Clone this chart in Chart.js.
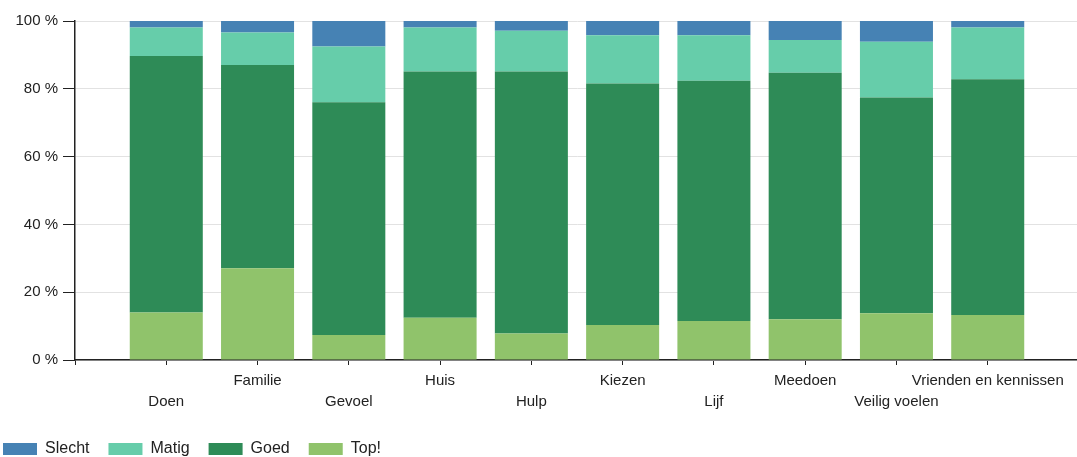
<!DOCTYPE html>
<html>
<head>
<meta charset="utf-8">
<script src="https://cdn.jsdelivr.net/npm/chart.js@4/dist/chart.umd.min.js"></script>
<style>
  html, body { margin: 0; padding: 0; background: #fff; overflow: hidden; }
  #wrap { width: 1077px; height: 457px; overflow: hidden; }
</style>
</head>
<body>
<div id="wrap"><canvas id="chart" width="1084" height="457"></canvas></div>
<script>
// categories (empty slots at both ends keep the first bar one step from the axis)
const categories = ['Doen', 'Familie', 'Gevoel', 'Huis', 'Hulp', 'Kiezen', 'Lijf', 'Meedoen', 'Veilig voelen', 'Vrienden en kennissen'];

// percentages per answer
const top_  = [14.0, 27.1,  7.4, 12.5,  7.8, 10.3, 11.5, 12.0, 13.8, 13.3];
const goed  = [75.7, 59.9, 68.6, 72.6, 77.3, 71.3, 70.9, 72.7, 63.6, 69.5];
const matig = [ 8.4,  9.6, 16.5, 13.0, 12.0, 14.2, 13.4,  9.7, 16.5, 15.3];
const slecht = [1.9,  3.4,  7.5,  1.9,  2.9,  4.2,  4.2,  5.6,  6.1,  1.9];

const yTicks = [0, 20, 40, 60, 80, 100];

function getColor(name) {
    if (name === 'Slecht') return '#4682B4';
    if (name === 'Matig') return '#66CDAA';
    if (name === 'Goed') return '#2E8B57';
    if (name === 'Top!') return '#90C36B';
}

// staggered labels: odd ones drop to a second line
const labels = [''].concat(categories.map((c, i) => i % 2 === 0 ? ['', c] : [c])).concat(['']);
const pad = arr => [null].concat(arr).concat([null]);

const series = [
    { label: 'Top!', data: top_ },
    { label: 'Goed', data: goed },
    { label: 'Matig', data: matig },
    { label: 'Slecht', data: slecht }
];

Chart.defaults.font.family = '"Liberation Sans", Arial, sans-serif';
Chart.defaults.color = '#333';

// legend sits flush with the left edge in the original
const legendShift = {
    id: 'legendShift',
    beforeDraw(chart) {
        chart.legend.left = -16;
    }
};

new Chart(document.getElementById('chart').getContext('2d'), {
    type: 'bar',
    data: {
        labels: labels,
        datasets: series.map(s => ({
            label: s.label,
            data: pad(s.data),
            backgroundColor: getColor(s.label),
            borderWidth: 0,
            categoryPercentage: 0.8,
            barPercentage: 1.0
        }))
    },
    plugins: [legendShift],
    options: {
        responsive: false,
        animation: false,
        layout: { padding: { top: 21, right: 0, left: 0, bottom: -10 } },
        plugins: {
            tooltip: { enabled: false },
            legend: {
                position: 'bottom',
                align: 'start',
                reverse: true,
                labels: {
                    boxWidth: 34,
                    boxHeight: 12,
                    padding: 19,
                    color: '#222',
                    font: { size: 16 }
                }
            }
        },
        scales: {
            x: {
                stacked: true,
                offset: false,
                grid: { drawOnChartArea: false, offset: false, tickLength: 5, tickColor: '#222' },
                border: { color: '#222', width: 1.5 },
                ticks: {
                    autoSkip: false,
                    maxRotation: 0,
                    minRotation: 0,
                    padding: 5,
                    color: '#222',
                    font: { size: 15, lineHeight: 1.4 }
                },
                afterFit: scale => { scale.height = 62; }
            },
            y: {
                stacked: true,
                min: 0,
                max: 100,
                afterBuildTicks: scale => { scale.ticks = yTicks.map(v => ({ value: v })); },
                grid: { color: '#e2e2e2', tickLength: 12, tickColor: '#222' },
                border: { color: '#222', width: 1.5 },
                ticks: {
                    padding: 5,
                    color: '#222',
                    font: { size: 15 },
                    callback: v => v + ' %'
                },
                afterFit: scale => { scale.width = 75; }
            }
        }
    }
});
</script>
</body>
</html>
